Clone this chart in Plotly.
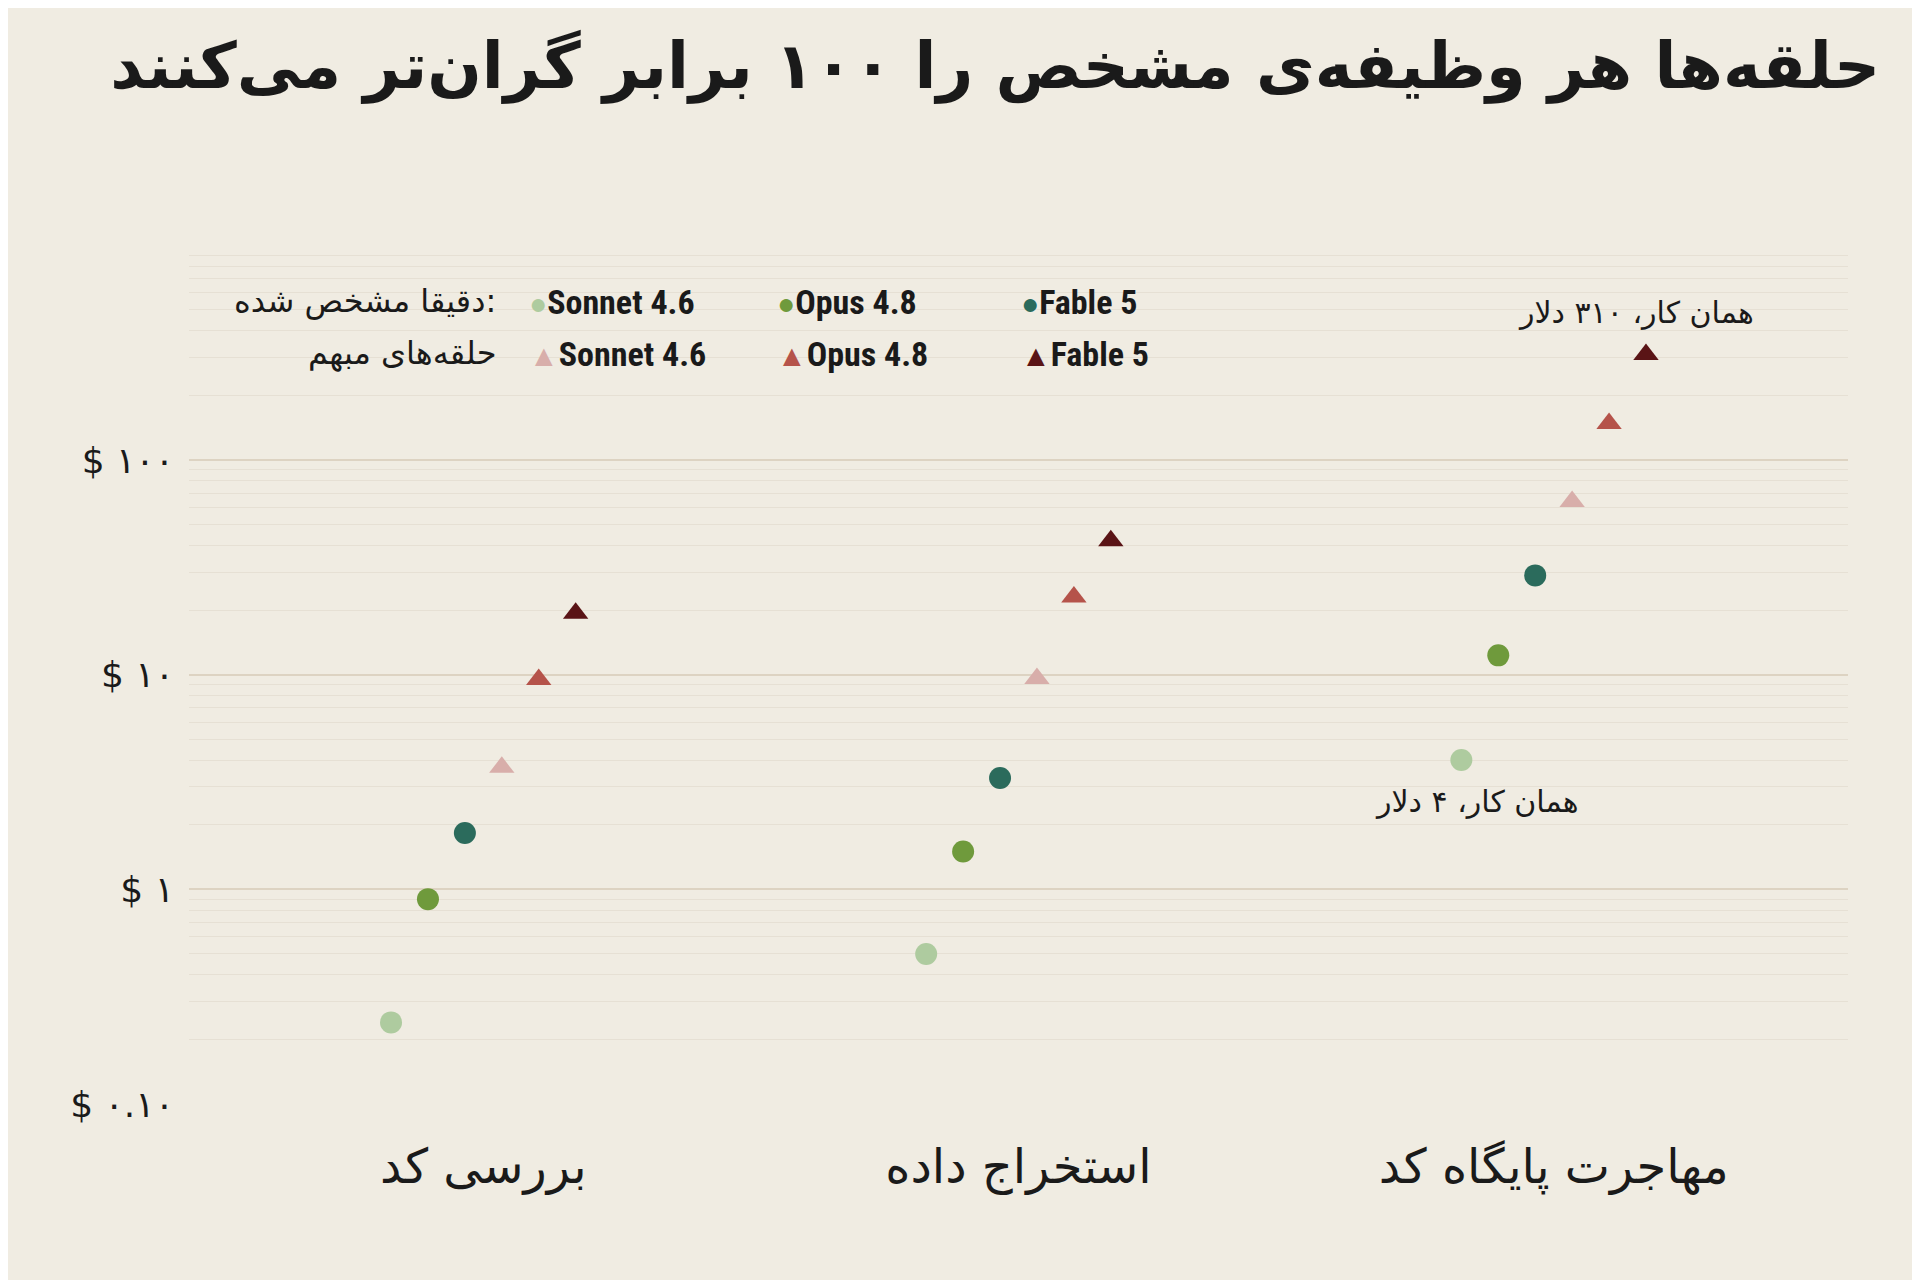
import math
import plotly.graph_objects as go

categories = ["بررسی کد", "استخراج داده", "مهاجرت پایگاه کد"]
series = ["Sonnet 4.6", "Opus 4.8", "Fable 5"]

# cost per task, precisely specified (circles) and vague loops (triangles)
precise = {
    "Sonnet 4.6": [0.24, 0.5, 4.0],
    "Opus 4.8": [0.9, 1.5, 12.3],
    "Fable 5": [1.83, 3.3, 29],
}
vague = {
    "Sonnet 4.6": [3.7, 9.6, 64],
    "Opus 4.8": [9.5, 23, 148],
    "Fable 5": [19.3, 42, 310],
}
tick_vals = [0.1, 1, 10, 100]
tick_text = ["$ ۰.۱۰", "$ ۱", "$ ۱۰", "$ ۱۰۰"]
minor_vals = [m * d for d in [0.1, 1, 10, 100] for m in range(2, 10)]

circle_colors = {"Sonnet 4.6": "#aecb9f", "Opus 4.8": "#6f9a3c", "Fable 5": "#2b6b5c"}
tri_colors = {"Sonnet 4.6": "#d8aeaa", "Opus 4.8": "#b5534a", "Fable 5": "#5a1416"}

FONT = "DejaVu Sans"
step = 0.069
fig = go.Figure()
for i, s in enumerate(series):
    fig.add_trace(go.Scatter(
        x=[c + (i - 2.5) * step for c in range(len(categories))], y=precise[s],
        mode="markers", marker=dict(symbol="circle", size=22, color=circle_colors[s]),
        showlegend=False))
for i, s in enumerate(series):
    fig.add_trace(go.Scatter(
        x=[c + (i + 0.5) * step for c in range(len(categories))], y=vague[s],
        mode="markers", marker=dict(symbol="triangle-up", size=22, color=tri_colors[s]),
        showlegend=False))

# legend built from annotations
rows = [("دقیقا مشخص شده:", "●", circle_colors, 0.955), ("حلقه‌های مبهم", "▲", tri_colors, 0.894)]
xs = [0.204, 0.353, 0.5]
for label, sym, cols, yy in rows:
    fig.add_annotation(xref="paper", yref="paper", x=0.186, y=yy, text=label, showarrow=False,
                       xanchor="right", font=dict(size=32, color="#1a1a1a", family=FONT))
    for s, xx in zip(series, xs):
        fig.add_annotation(xref="paper", yref="paper", x=xx, y=yy, showarrow=False, xanchor="left",
                           text=f"<span style='color:{cols[s]};font-size:30px'>{sym}</span><b>{s}</b>",
                           font=dict(size=34, color="#1a1a1a", family="Roboto Condensed, Roboto"))

fig.add_annotation(x=2 + 2.5 * step, y=math.log10(vague["Fable 5"][2]), text="همان کار، ۳۱۰ دلار",
                   showarrow=False, xanchor="center", yanchor="bottom", yshift=22, xshift=-10,
                   font=dict(size=30, color="#1a1a1a", family=FONT))
fig.add_annotation(x=2 - 2.5 * step, y=math.log10(precise["Sonnet 4.6"][2]), text="همان کار، ۴ دلار",
                   showarrow=False, xanchor="right", yanchor="top", yshift=-22, xshift=120,
                   font=dict(size=30, color="#1a1a1a", family=FONT))

fig.update_layout(
    width=1920, height=1280,
    paper_bgcolor="#f0ece2", plot_bgcolor="#f0ece2",
    margin=dict(l=181, r=80, t=233, b=184),
    title=dict(text="<b>حلقه‌ها هر وظیفه‌ی مشخص را ۱۰۰ برابر گران‌تر می‌کنند</b>", x=0.975, xanchor="right",
               y=0.955, yanchor="middle", font=dict(size=64, color="#1a1a1a", family=FONT)),
    xaxis=dict(range=[-0.55, 2.55], tickvals=list(range(len(categories))), ticktext=categories,
               showgrid=False, zeroline=False, showline=False,
               tickfont=dict(size=48, color="#1a1a1a", family=FONT), ticklabelstandoff=30),
    yaxis=dict(type="log", range=[-1, 3.02], tickvals=tick_vals, ticktext=tick_text,
               gridcolor="#ddd3c2", gridwidth=2, zeroline=False, showline=False,
               tickfont=dict(size=36, color="#1a1a1a", family=FONT), ticklabelstandoff=14,
               minor=dict(tickvals=minor_vals, showgrid=True, gridcolor="#e6e0d4",
                          gridwidth=1, ticks="")),
)
fig.write_html("out.html")
